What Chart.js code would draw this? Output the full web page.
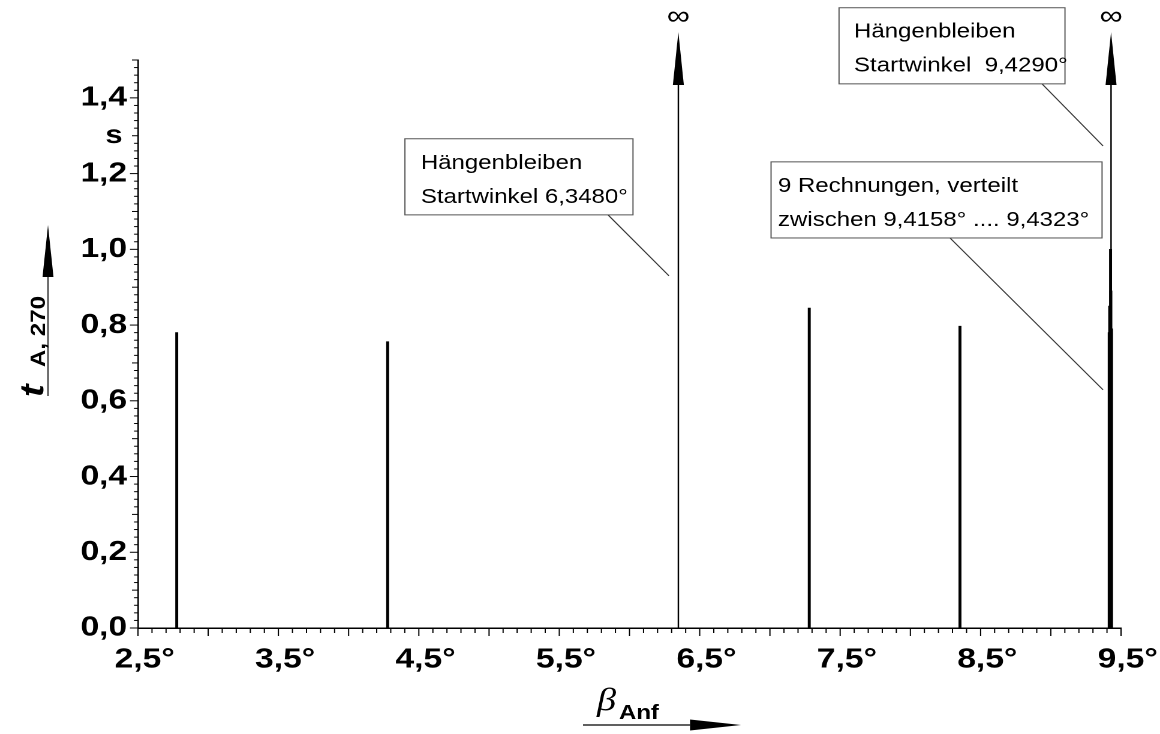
<!DOCTYPE html>
<html>
<head>
<meta charset="utf-8">
<script src="https://cdn.jsdelivr.net/npm/chart.js@4.4.1/dist/chart.umd.min.js"></script>
<style>
    html, body { margin: 0; padding: 0; background: #fff; overflow: hidden; }
    /* the original lettering is drawn about 1.2x wider than high */
    #wrap { width: 967px; height: 734px; transform: scaleX(1.19959); transform-origin: 0 0; }
</style>
</head>
<body>
<div id="wrap"><canvas id="chart"></canvas></div>
<script>
(function () {
    'use strict';

    // start angle (deg) of each computation and its time t_A,270 (s)
    var startAngles = [2.776, 4.278, 7.280, 8.353,
        9.4158, 9.4175, 9.4195, 9.4215, 9.4235, 9.4255, 9.4275, 9.4300, 9.4323];
    var times = [0.780, 0.756, 0.845, 0.797,
        0.78, 0.77, 0.85, 0.76, 0.78, 1.00, 0.89, 0.78, 0.79];
    // runs that got stuck (t -> infinity)
    var stuckAngles = [6.348, 9.429];

    var xTicks = [2.5, 3.5, 4.5, 5.5, 6.5, 7.5, 8.5, 9.5];
    var yTicks = [0, 0.2, 0.4, 0.6, 0.8, 1.0, 1.2, 1.4];

    var notes = [
        { lines: ['Hängenbleiben', 'Startwinkel 6,3480°'], box: [4.401, 1.292, 6.025, 1.091], pad: 13.3, from: [5.847, 1.091], to: [6.281, 0.930] },
        { lines: ['Hängenbleiben', 'Startwinkel  9,4290°'], box: [7.492, 1.638, 9.101, 1.437], pad: 12.5, from: [8.937, 1.437], to: [9.372, 1.273] },
        { lines: ['9 Rechnungen, verteilt', 'zwischen 9,4158° .... 9,4323°'], box: [7.008, 1.231, 9.365, 1.030], pad: 5.8, from: [8.282, 1.030], to: [9.372, 0.629] }
    ];

    var R = 1160 / 967;          // horizontal stretch of the wrapper
    var FONT = "'Liberation Sans', Arial, sans-serif";

    function hx(px) { return px / R; }

    function comma(v) { return v.toFixed(1).replace('.', ','); }

    function line(ctx, x1, y1, x2, y2) {
        ctx.beginPath();
        ctx.moveTo(x1, y1);
        ctx.lineTo(x2, y2);
        ctx.stroke();
    }

    var decorPlugin = {
        id: 'decor',
        afterDraw: function (chart) {
            var ctx = chart.ctx;
            var xs = chart.scales.x;
            var ys = chart.scales.y;
            var area = chart.chartArea;
            var i, v, p, len;

            ctx.save();
            ctx.strokeStyle = '#000';

            // minor ticks x
            ctx.lineWidth = 1;
            for (i = 0; i <= 70; i++) {
                v = 2.5 + i * 0.1;
                p = xs.getPixelForValue(v);
                len = (i % 5 === 0) ? 8 : 5;
                line(ctx, p, area.bottom, p, area.bottom + len);
            }
            // minor ticks y
            ctx.lineWidth = 1;
            for (i = 0; i <= 75; i++) {
                v = i * 0.02;
                p = ys.getPixelForValue(v);
                len = (i % 10 === 0) ? hx(8) : (i % 5 === 0 ? hx(6) : hx(4));
                line(ctx, area.left - len, p, area.left, p);
            }

            // stuck runs: line up to an arrow, infinity sign above
            stuckAngles.forEach(function (a) {
                var px = xs.getPixelForValue(a);
                var y0 = ys.getPixelForValue(0);
                var tip = area.top - 28;
                var base = tip + 53;
                ctx.strokeStyle = '#000';
                ctx.lineWidth = hx(1.5);
                line(ctx, px, y0, px, base);
                ctx.fillStyle = '#000';
                ctx.beginPath();
                ctx.moveTo(px, tip);
                ctx.lineTo(px - hx(5.5), base);
                ctx.lineTo(px + hx(5.5), base);
                ctx.closePath();
                ctx.fill();
                ctx.font = '27px ' + FONT;
                ctx.textAlign = 'center';
                ctx.textBaseline = 'middle';
                ctx.fillText('\u221E', px, tip - 15);
            });

            // annotation boxes
            notes.forEach(function (n) {
                var l = xs.getPixelForValue(n.box[0]);
                var t = ys.getPixelForValue(n.box[1]);
                var r = xs.getPixelForValue(n.box[2]);
                var b = ys.getPixelForValue(n.box[3]);
                ctx.strokeStyle = '#333';
                ctx.lineWidth = 1;
                line(ctx, xs.getPixelForValue(n.from[0]), ys.getPixelForValue(n.from[1]),
                    xs.getPixelForValue(n.to[0]), ys.getPixelForValue(n.to[1]));
                ctx.fillStyle = '#fff';
                ctx.fillRect(l, t, r - l, b - t);
                ctx.strokeStyle = '#555';
                ctx.strokeRect(l, t, r - l, b - t);
                ctx.fillStyle = '#000';
                ctx.font = '20px ' + FONT;
                ctx.textAlign = 'left';
                ctx.textBaseline = 'alphabetic';
                ctx.fillText(n.lines[0], l + n.pad, t + 30);
                ctx.fillText(n.lines[1], l + n.pad, t + 64);
            });

            // unit
            ctx.fillStyle = '#000';
            ctx.font = 'bold 26px ' + FONT;
            ctx.textAlign = 'center';
            ctx.textBaseline = 'middle';
            ctx.fillText('s', hx(114), ys.getPixelForValue(1.3));

            // y title with arrow
            ctx.strokeStyle = '#444';
            ctx.lineWidth = hx(1.5);
            line(ctx, hx(48), 396, hx(48), 277);
            ctx.fillStyle = '#000';
            ctx.beginPath();
            ctx.moveTo(hx(48), 225);
            ctx.lineTo(hx(42.5), 277);
            ctx.lineTo(hx(53.5), 277);
            ctx.closePath();
            ctx.fill();

            ctx.save();
            ctx.translate(hx(43), 397);
            ctx.scale(1 / R, 1);
            ctx.rotate(-Math.PI / 2);
            ctx.scale(1.15, 1);
            ctx.textAlign = 'left';
            ctx.textBaseline = 'alphabetic';
            ctx.font = 'italic bold 33px ' + FONT;
            ctx.fillText('t', 0, 0);
            ctx.font = 'bold 21px ' + FONT;
            ctx.fillText('A, 270', 26, 2);
            ctx.restore();

            // x title with arrow
            ctx.fillStyle = '#000';
            ctx.textAlign = 'left';
            ctx.textBaseline = 'alphabetic';
            ctx.font = "italic 32px 'Liberation Serif', serif";
            ctx.fillText('\u03B2', hx(597), 710);
            ctx.font = 'bold 20px ' + FONT;
            ctx.fillText('Anf', hx(619), 719);
            ctx.strokeStyle = '#000';
            ctx.lineWidth = 1.2;
            line(ctx, hx(583), 725, hx(690), 725);
            ctx.beginPath();
            ctx.moveTo(hx(741), 725);
            ctx.lineTo(hx(690), 719.5);
            ctx.lineTo(hx(690), 730.5);
            ctx.closePath();
            ctx.fill();

            ctx.restore();
        }
    };

    var points = startAngles.map(function (a, i) { return { x: a, y: times[i] }; });

    new Chart(document.getElementById('chart'), {
        type: 'bar',
        data: {
            datasets: [{
                label: 't_A,270',
                data: points,
                backgroundColor: '#000',
                borderWidth: 0,
                barThickness: 1.8
            }]
        },
        options: {
            responsive: true,
            maintainAspectRatio: false,
            animation: false,
            devicePixelRatio: 2,
            layout: { padding: { top: 60, right: 32.5, left: 0, bottom: 0 } },
            plugins: { legend: { display: false }, tooltip: { enabled: false } },
            scales: {
                x: {
                    type: 'linear',
                    min: 2.5,
                    max: 9.5,
                    offset: false,
                    afterBuildTicks: function (s) { s.ticks = xTicks.map(function (v) { return { value: v }; }); },
                    afterFit: function (s) {
                        s.height = 106;
                        s.paddingLeft = 0;
                        s.paddingRight = 0;
                    },
                    grid: { display: false, drawTicks: false },
                    border: { display: true, color: '#000', width: 1.5 },
                    ticks: {
                        autoSkip: false,
                        maxRotation: 0,
                        padding: 15,
                        labelOffset: 5.6,
                        color: '#000',
                        font: { family: FONT, size: 28, weight: 'bold' },
                        callback: function (v) { return comma(v) + '°'; }
                    }
                },
                y: {
                    min: 0,
                    max: 1.5,
                    afterBuildTicks: function (s) { s.ticks = yTicks.map(function (v) { return { value: v }; }); },
                    afterFit: function (s) {
                        s.width = 115;
                        s.paddingTop = 0;
                        s.paddingBottom = 0;
                    },
                    grid: { display: false, drawTicks: false },
                    border: { display: true, color: '#000', width: 1.3 },
                    ticks: {
                        autoSkip: false,
                        padding: 9,
                        color: '#000',
                        font: { family: FONT, size: 28, weight: 'bold' },
                        callback: function (v) { return comma(v); }
                    }
                }
            }
        },
        plugins: [decorPlugin]
    });
})();
</script>
</body>
</html>
